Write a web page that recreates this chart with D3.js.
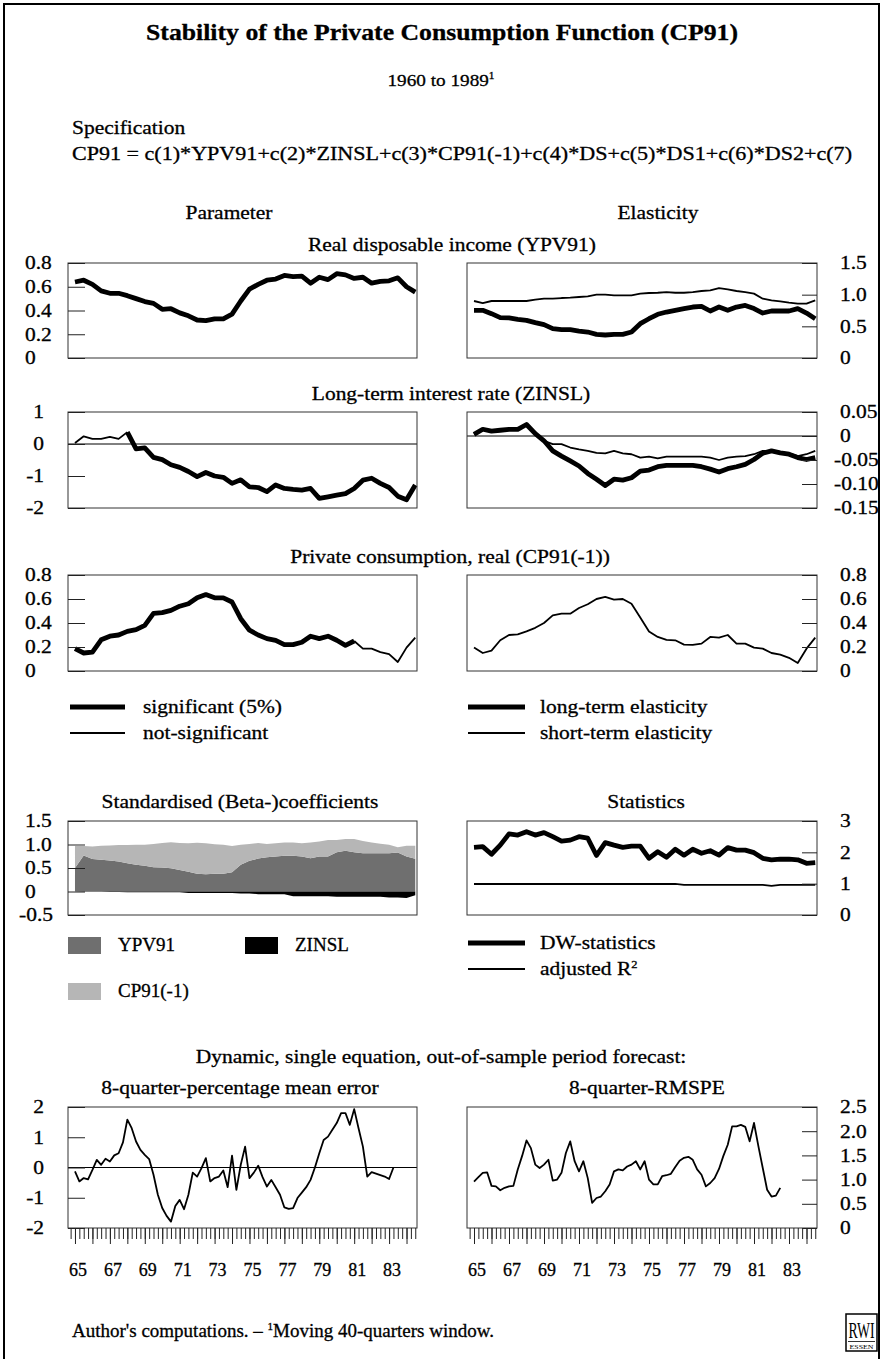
<!DOCTYPE html>
<meta charset="utf-8">
<style>
body { margin: 0; background: #fff; }
svg { display: block; font-family: "Liberation Serif", "Times New Roman", serif; }
.box { fill: none; stroke: #333; stroke-width: 1px; }
.yaxis line, .xaxis line { stroke: #222; stroke-width: 1px; }
.yaxis text { font-family: "Liberation Serif", serif; font-size: 18.5px; fill: #000; stroke: #000; stroke-width: 0.3px; }
.xaxis text { font-family: "Liberation Serif", serif; font-size: 18px; fill: #000; stroke: #000; stroke-width: 0.3px; }
.t { font-size: 19px; fill: #000; stroke: #000; stroke-width: 0.3px; }
</style>
<svg width="883" height="1359"></svg>
<script src="https://cdn.jsdelivr.net/npm/d3@7"></script>
<script>

// ---- time axes ----
var halfYears = d3.range(40).map(function(k) { return 65 + k / 2; });
var quartersME = d3.range(74).map(function(q) { return 65 + q / 4; });
var quartersRM = d3.range(71).map(function(q) { return 65 + q / 4; });
var yearTicks = d3.range(65, 85);

// ---- Real disposable income (YPV91) ----
var ypvParam = [0.64,0.655,0.62,0.565,0.545,0.545,0.525,0.50,0.475,0.46,0.41,0.415,0.38,0.355,0.32,0.315,0.33,0.33,0.37,0.48,
                0.58,0.62,0.655,0.665,0.695,0.685,0.69,0.63,0.68,0.66,0.71,0.70,0.67,0.68,0.63,0.645,0.65,0.675,0.60,0.555];
var ypvElastLong = [0.753,0.753,0.70,0.637,0.632,0.61,0.595,0.558,0.526,0.463,0.447,0.447,0.426,0.41,0.374,0.363,0.374,0.374,0.41,0.542,
                    0.62,0.69,0.726,0.753,0.78,0.805,0.816,0.742,0.805,0.753,0.805,0.83,0.78,0.71,0.742,0.742,0.742,0.78,0.71,0.62];
var ypvElastShort = [0.90,0.868,0.90,0.90,0.90,0.90,0.90,0.92,0.937,0.937,0.947,0.953,0.963,0.974,1.0,1.0,0.99,0.99,0.99,1.016,
                     1.026,1.03,1.04,1.03,1.03,1.04,1.058,1.068,1.105,1.084,1.058,1.04,1.016,0.937,0.91,0.895,0.874,0.858,0.858,0.91];

// ---- Long-term interest rate (ZINSL) ----
var zinslParam = [0.03,0.24,0.16,0.16,0.22,0.16,0.37,-0.15,-0.12,-0.42,-0.49,-0.65,-0.73,-0.86,-1.02,-0.89,-1.0,-1.04,-1.23,-1.12,
                  -1.34,-1.36,-1.49,-1.28,-1.39,-1.42,-1.44,-1.39,-1.7,-1.65,-1.6,-1.55,-1.39,-1.13,-1.07,-1.23,-1.36,-1.63,-1.74,-1.28];
var zinslParamSigFrom = 6;
var zinslElastLong = [0.0035,0.014,0.010,0.012,0.014,0.014,0.024,0.005,-0.010,-0.031,-0.042,-0.052,-0.0625,-0.078,-0.090,-0.103,-0.090,-0.092,-0.087,-0.073,
                      -0.071,-0.064,-0.061,-0.061,-0.061,-0.061,-0.064,-0.069,-0.075,-0.068,-0.064,-0.059,-0.049,-0.036,-0.031,-0.035,-0.038,-0.045,-0.049,-0.045];
var zinslElastShort = [0.0035,0.014,0.010,0.012,0.014,0.014,0.024,0.005,-0.010,-0.017,-0.017,-0.024,-0.028,-0.031,-0.035,-0.036,-0.031,-0.036,-0.038,-0.045,
                       -0.043,-0.0465,-0.043,-0.043,-0.043,-0.043,-0.043,-0.045,-0.05,-0.045,-0.043,-0.042,-0.038,-0.031,-0.031,-0.033,-0.036,-0.042,-0.038,-0.031];

// ---- Private consumption, real (CP91(-1)) ----
var cpParam = [0.186,0.15,0.158,0.26,0.29,0.30,0.33,0.345,0.38,0.48,0.486,0.505,0.54,0.56,0.61,0.637,0.61,0.61,0.575,0.436,
               0.34,0.30,0.27,0.256,0.22,0.22,0.24,0.29,0.27,0.29,0.256,0.214,0.25,0.186,0.186,0.158,0.14,0.075,0.195,0.278];
var cpParamSigTo = 32;
var cpElastShort = [0.195,0.15,0.17,0.256,0.30,0.306,0.33,0.36,0.40,0.464,0.478,0.478,0.525,0.556,0.60,0.617,0.595,0.60,0.56,0.445,
                    0.33,0.284,0.26,0.256,0.22,0.217,0.228,0.284,0.278,0.30,0.228,0.228,0.195,0.186,0.15,0.136,0.11,0.067,0.186,0.278];

// ---- Standardised (Beta-)coefficients ----
var betaYpv = [0.50,0.766,0.69,0.674,0.66,0.64,0.60,0.567,0.546,0.518,0.51,0.496,0.46,0.418,0.376,0.369,0.376,0.376,0.41,0.567,
               0.652,0.70,0.73,0.745,0.76,0.76,0.745,0.71,0.745,0.745,0.837,0.865,0.837,0.815,0.815,0.815,0.815,0.83,0.745,0.695];
var betaCp = [0.47,0.20,0.27,0.30,0.32,0.35,0.39,0.43,0.45,0.49,0.52,0.55,0.57,0.61,0.66,0.66,0.63,0.62,0.56,0.43,
              0.36,0.33,0.28,0.28,0.28,0.28,0.28,0.33,0.32,0.35,0.26,0.25,0.28,0.26,0.23,0.20,0.18,0.11,0.23,0.28];
var betaZinsl = [0,-0.005,-0.005,-0.005,-0.01,-0.01,-0.015,-0.015,-0.015,-0.015,-0.015,-0.015,-0.015,-0.03,-0.03,-0.03,-0.03,-0.03,-0.03,-0.04,
                 -0.04,-0.06,-0.06,-0.06,-0.06,-0.1,-0.1,-0.1,-0.1,-0.1,-0.11,-0.11,-0.11,-0.11,-0.11,-0.11,-0.13,-0.13,-0.14,-0.08];
var betaKeys = ["YPV91", "CP91(-1)", "ZINSL"];
var betaColors = ["#6f6f6f", "#b6b6b6", "#000000"];

// ---- Statistics ----
var dwStat = [2.16,2.18,1.94,2.23,2.59,2.55,2.66,2.55,2.63,2.50,2.36,2.39,2.50,2.45,1.90,2.31,2.23,2.16,2.20,2.20,
              1.81,2.02,1.84,2.10,1.91,2.10,1.97,2.05,1.91,2.15,2.07,2.07,1.99,1.81,1.76,1.78,1.78,1.76,1.65,1.67];
var adjR2 = [0.99,0.99,0.99,0.99,0.99,0.99,0.99,0.99,0.99,0.99,0.99,0.99,0.99,0.99,0.99,0.99,0.99,0.99,0.99,0.99,
             0.99,0.99,0.99,0.99,0.96,0.96,0.96,0.96,0.96,0.96,0.96,0.96,0.96,0.96,0.93,0.96,0.96,0.96,0.96,0.96];

// ---- Forecast errors ----
var meanError = [-0.13,-0.46,-0.35,-0.39,-0.08,0.25,0.09,0.29,0.20,0.40,0.47,0.83,1.58,1.30,0.86,0.58,0.42,0.28,-0.24,-0.90,
                 -1.34,-1.60,-1.79,-1.27,-1.07,-1.38,-0.90,-0.17,-0.30,-0.02,0.31,-0.46,-0.35,-0.30,-0.10,-0.65,0.39,-0.74,0.09,0.69,
                 -0.35,-0.17,0.06,-0.32,-0.63,-0.41,-0.65,-0.90,-1.32,-1.37,-1.34,-1.01,-0.83,-0.65,-0.41,0.0,0.47,0.91,1.02,1.25,
                 1.47,1.80,1.80,1.41,1.93,1.30,0.69,-0.30,-0.15,-0.20,-0.25,-0.30,-0.38,0.0];
var rmspe = [0.96,1.05,1.14,1.15,0.87,0.86,0.78,0.83,0.86,0.87,1.21,1.49,1.81,1.65,1.31,1.24,1.31,1.41,0.98,1.0,
             1.14,1.55,1.79,1.38,1.17,1.38,1.03,0.52,0.62,0.65,0.76,0.90,1.17,1.21,1.19,1.27,1.31,1.38,1.21,1.38,
             1.0,0.90,0.90,1.07,1.09,1.12,1.26,1.39,1.45,1.47,1.41,1.21,1.10,0.86,0.93,1.03,1.22,1.49,1.72,2.10,
             2.10,2.13,2.09,1.79,2.17,1.69,1.24,0.79,0.65,0.67,0.83];

// ---- tick values ----
var ticks08 = [0, 0.2, 0.4, 0.6, 0.8];
var ticks15 = [0, 0.5, 1.0, 1.5];
var ticksZinslP = [-2, -1, 0, 1];
var ticksZinslE = [-0.15, -0.10, -0.05, 0, 0.05];
var ticksBeta = [-0.5, 0, 0.5, 1.0, 1.5];
var ticksStat = [0, 1, 2, 3];
var ticksME = [-2, -1, 0, 1, 2];
var ticksRM = [0, 0.5, 1.0, 1.5, 2.0, 2.5];

var THICK = 4.8, THIN = 1.8;
var WIDE = 1.13;     // the original lettering is a little wider than Times
var svg = d3.select("svg");
var xDomain = [64.6, 84.6];
var LEFT_BOX = [68, 417], RIGHT_BOX = [467, 817];

function fmt1(d) { return d === 0 ? "0" : d.toFixed(1); }
function fmt2(d) { return d === 0 ? "0" : d.toFixed(2); }
function fmt0(d) { return String(d); }

function stretch(sel, k) {
  sel.each(function() {
    var w = this.getComputedTextLength();
    d3.select(this).attr("textLength", w * k).attr("lengthAdjust", "spacingAndGlyphs");
  });
  return sel;
}

function text(x, y, s, anchor, size) {
  return svg.append("text").attr("class", "t").attr("x", x).attr("y", y)
    .attr("text-anchor", anchor || "start")
    .style("font-size", (size || 19) + "px")
    .text(s);
}

function makePanel(side, top, bottom, yDomain) {
  var xr = side === "left" ? LEFT_BOX : RIGHT_BOX;
  return {
    side: side, top: top, bottom: bottom, x0: xr[0], x1: xr[1],
    x: d3.scaleLinear().domain(xDomain).range(xr),
    y: d3.scaleLinear().domain(yDomain).range([bottom, top])
  };
}

function frame(p) {
  svg.append("rect").attr("class", "box")
    .attr("x", p.x0).attr("y", p.top)
    .attr("width", p.x1 - p.x0).attr("height", p.bottom - p.top);
}

function yAxis(p, ticks, fmt, align) {
  var left = p.side === "left";
  var axis = (left ? d3.axisLeft(p.y).tickSize(-17) : d3.axisRight(p.y).tickSize(-15))
    .tickValues(ticks).tickFormat(fmt);
  var g = svg.append("g").attr("class", "yaxis")
    .attr("transform", "translate(" + (left ? p.x0 : p.x1) + ",0)")
    .call(axis)
    .attr("font-family", null).attr("font-size", null);
  g.select(".domain").remove();
  g.selectAll(".tick text").each(function(d) {
    var t = d3.select(this);
    if (left && align === "end") t.attr("x", 44 - p.x0).attr("text-anchor", "end");
    else if (left) t.attr("x", (d < 0 ? 19 : 25) - p.x0).attr("text-anchor", "start");
    else t.attr("x", (d < 0 ? 834 : 840) - p.x1).attr("text-anchor", "start");
  });
  stretch(g.selectAll(".tick text"), 1.16);
}

function zeroLine(p) {
  svg.append("line").attr("x1", p.x0).attr("x2", p.x1)
    .attr("y1", p.y(0)).attr("y2", p.y(0))
    .attr("stroke", "#000").attr("stroke-width", 1);
}

function plotLine(p, xs, ys, width, from, to) {
  var pts = d3.zip(xs, ys).slice(from || 0, to === undefined ? xs.length : to + 1);
  svg.append("path").datum(pts)
    .attr("fill", "none").attr("stroke", "#000")
    .attr("stroke-width", width).attr("stroke-linejoin", "round")
    .attr("d", d3.line().x(function(d) { return p.x(d[0]); }).y(function(d) { return p.y(d[1]); }));
}

function ruler(p) {
  var quarters = d3.range(-1, 79).map(function(q) { return 65 + q / 4; });
  var minor = d3.axisBottom(p.x).tickValues(quarters).tickSize(11).tickFormat("");
  var major = d3.axisBottom(p.x).tickValues(yearTicks).tickSize(16).tickPadding(19)
    .tickFormat(function(d) { return d % 2 ? String(d) : ""; });
  var g1 = svg.append("g").attr("class", "xaxis").attr("transform", "translate(0," + p.bottom + ")").call(minor);
  var g2 = svg.append("g").attr("class", "xaxis").attr("transform", "translate(0," + p.bottom + ")").call(major)
    .attr("font-family", null).attr("font-size", null);
  g1.select(".domain").remove();
  g2.select(".domain").remove();
  g2.selectAll(".tick text").attr("dx", 2.5);
}

// ---- outer frame ----
svg.append("rect").attr("x", 4).attr("y", 4).attr("width", 875).attr("height", 1380)
  .attr("fill", "none").attr("stroke", "#000").attr("stroke-width", 2);

// ---- headings ----
text(442, 40, "Stability of the Private Consumption Function (CP91)", "middle", 24)
  .style("font-weight", "bold").attr("textLength", 592).attr("lengthAdjust", "spacingAndGlyphs");
var sub = text(441, 86, "1960 to 1989", "middle", 17);
sub.append("tspan").attr("dy", -7).style("font-size", "10px").text("1");
stretch(sub, WIDE);
stretch(text(72, 134, "Specification", "start", 19), WIDE);
text(72, 160, "CP91 = c(1)*YPV91+c(2)*ZINSL+c(3)*CP91(-1)+c(4)*DS+c(5)*DS1+c(6)*DS2+c(7)", "start", 19)
  .attr("textLength", 780).attr("lengthAdjust", "spacingAndGlyphs");
stretch(text(229, 219, "Parameter", "middle", 19), WIDE);
stretch(text(658, 219, "Elasticity", "middle", 19), WIDE);

// ---- row 1: YPV91 ----
stretch(text(452, 251, "Real disposable income (YPV91)", "middle", 19), WIDE);
var p1l = makePanel("left", 263, 358, [0, 0.8]);
plotLine(p1l, halfYears, ypvParam, THICK);
frame(p1l); yAxis(p1l, ticks08, fmt1);
var p1r = makePanel("right", 263, 358, [0, 1.5]);
plotLine(p1r, halfYears, ypvElastShort, THIN);
plotLine(p1r, halfYears, ypvElastLong, THICK);
frame(p1r); yAxis(p1r, ticks15, fmt1);

// ---- row 2: ZINSL ----
stretch(text(451, 400, "Long-term interest rate (ZINSL)", "middle", 19), WIDE);
var p2l = makePanel("left", 412, 508, [-2, 1]);
zeroLine(p2l);
plotLine(p2l, halfYears, zinslParam, THIN, 0, zinslParamSigFrom);
plotLine(p2l, halfYears, zinslParam, THICK, zinslParamSigFrom);
frame(p2l); yAxis(p2l, ticksZinslP, fmt0, "end");
var p2r = makePanel("right", 412, 508, [-0.15, 0.05]);
zeroLine(p2r);
plotLine(p2r, halfYears, zinslElastShort, THIN);
plotLine(p2r, halfYears, zinslElastLong, THICK);
frame(p2r); yAxis(p2r, ticksZinslE, fmt2);

// ---- row 3: CP91(-1) ----
stretch(text(450, 563, "Private consumption, real (CP91(-1))", "middle", 19), WIDE);
var p3l = makePanel("left", 575, 671, [0, 0.8]);
plotLine(p3l, halfYears, cpParam, THICK, 0, cpParamSigTo);
plotLine(p3l, halfYears, cpParam, THIN, cpParamSigTo);
frame(p3l); yAxis(p3l, ticks08, fmt1);
var p3r = makePanel("right", 575, 671, [0, 0.8]);
plotLine(p3r, halfYears, cpElastShort, THIN);
frame(p3r); yAxis(p3r, ticks08, fmt1);

// ---- legend 1 ----
var sigLegend = ["significant (5%)", "not-significant"];
var elastLegend = ["long-term elasticity", "short-term elasticity"];
[THICK, THIN].forEach(function(w, i) {
  var y = 707 + i * 26;
  svg.append("line").attr("x1", 70).attr("x2", 125).attr("y1", y).attr("y2", y).attr("stroke", "#000").attr("stroke-width", w);
  stretch(text(143, y + 6, sigLegend[i], "start", 19), WIDE);
  svg.append("line").attr("x1", 468).attr("x2", 525).attr("y1", y).attr("y2", y).attr("stroke", "#000").attr("stroke-width", w);
  stretch(text(540, y + 6, elastLegend[i], "start", 19), WIDE);
});

// ---- row 4: Beta coefficients / statistics ----
stretch(text(240, 808, "Standardised (Beta-)coefficients", "middle", 19), WIDE);
stretch(text(646, 808, "Statistics", "middle", 19), WIDE);
var p4l = makePanel("left", 821, 915, [-0.5, 1.5]);
var betaRows = halfYears.map(function(t, i) {
  return { t: t, "YPV91": betaYpv[i], "CP91(-1)": betaCp[i], "ZINSL": betaZinsl[i] };
});
var stacked = d3.stack().keys(betaKeys).offset(d3.stackOffsetDiverging)(betaRows);
var betaArea = d3.area()
  .x(function(d) { return p4l.x(d.data.t); })
  .y0(function(d) { return p4l.y(d[0]); })
  .y1(function(d) { return p4l.y(d[1]); });
svg.append("g").selectAll("path").data(stacked).join("path")
  .attr("fill", function(d, i) { return betaColors[i]; })
  .attr("d", betaArea);
frame(p4l); yAxis(p4l, ticksBeta, fmt1);

var p4r = makePanel("right", 821, 915, [0, 3]);
plotLine(p4r, halfYears, adjR2, THIN);
plotLine(p4r, halfYears, dwStat, THICK);
frame(p4r); yAxis(p4r, ticksStat, fmt0);

// ---- legend 2 ----
var swatchPos = [[68, 937], [68, 983], [245, 937]];
betaKeys.forEach(function(k, i) {
  var pos = swatchPos[i];
  svg.append("rect").attr("x", pos[0]).attr("y", pos[1]).attr("width", 33).attr("height", 17).attr("fill", betaColors[i]);
  text(pos[0] + 50, pos[1] + 14, k, "start", 19);
});
var statLegend = ["DW-statistics", "adjusted R"];
[THICK, THIN].forEach(function(w, i) {
  var y = 943 + i * 26;
  svg.append("line").attr("x1", 468).attr("x2", 525).attr("y1", y).attr("y2", y).attr("stroke", "#000").attr("stroke-width", w);
  var t = text(540, y + 6, statLegend[i], "start", 19);
  if (i === 1) t.append("tspan").attr("dy", -7).style("font-size", "11px").text("2");
  stretch(t, WIDE);
});

// ---- row 5: forecast errors ----
stretch(text(441, 1063, "Dynamic, single equation, out-of-sample period forecast:", "middle", 19), WIDE);
stretch(text(240, 1094, "8-quarter-percentage mean error", "middle", 19), WIDE);
stretch(text(647, 1094, "8-quarter-RMSPE", "middle", 19), WIDE);
var p5l = makePanel("left", 1107, 1228, [-2, 2]);
zeroLine(p5l);
plotLine(p5l, quartersME, meanError, THIN);
frame(p5l); yAxis(p5l, ticksME, fmt0, "end"); ruler(p5l);
var p5r = makePanel("right", 1107, 1228, [0, 2.5]);
plotLine(p5r, quartersRM, rmspe, THIN);
frame(p5r); yAxis(p5r, ticksRM, fmt1); ruler(p5r);

// ---- footnote ----
var foot = text(72, 1337, "Author's computations. \u2013 ", "start", 19);
foot.append("tspan").attr("dy", -7).style("font-size", "11px").text("1");
foot.append("tspan").attr("dy", 7).text("Moving 40-quarters window.");

// ---- RWI logo ----
var logo = svg.append("g").attr("transform", "translate(846,1314)");
logo.append("rect").attr("width", 31).attr("height", 37).attr("fill", "#fff").attr("stroke", "#000").attr("stroke-width", 1.5);
logo.append("text").attr("transform", "translate(15.5,24) scale(1,1.5)").attr("text-anchor", "middle")
  .style("font-size", "15px").attr("textLength", 26).attr("lengthAdjust", "spacingAndGlyphs").text("RWI");
logo.append("line").attr("x1", 2).attr("x2", 29).attr("y1", 27.5).attr("y2", 27.5).attr("stroke", "#000").attr("stroke-width", 0.8);
logo.append("text").attr("x", 15.5).attr("y", 35).attr("text-anchor", "middle")
  .style("font-size", "6px").attr("textLength", 24).attr("lengthAdjust", "spacingAndGlyphs").text("ESSEN");

</script>
